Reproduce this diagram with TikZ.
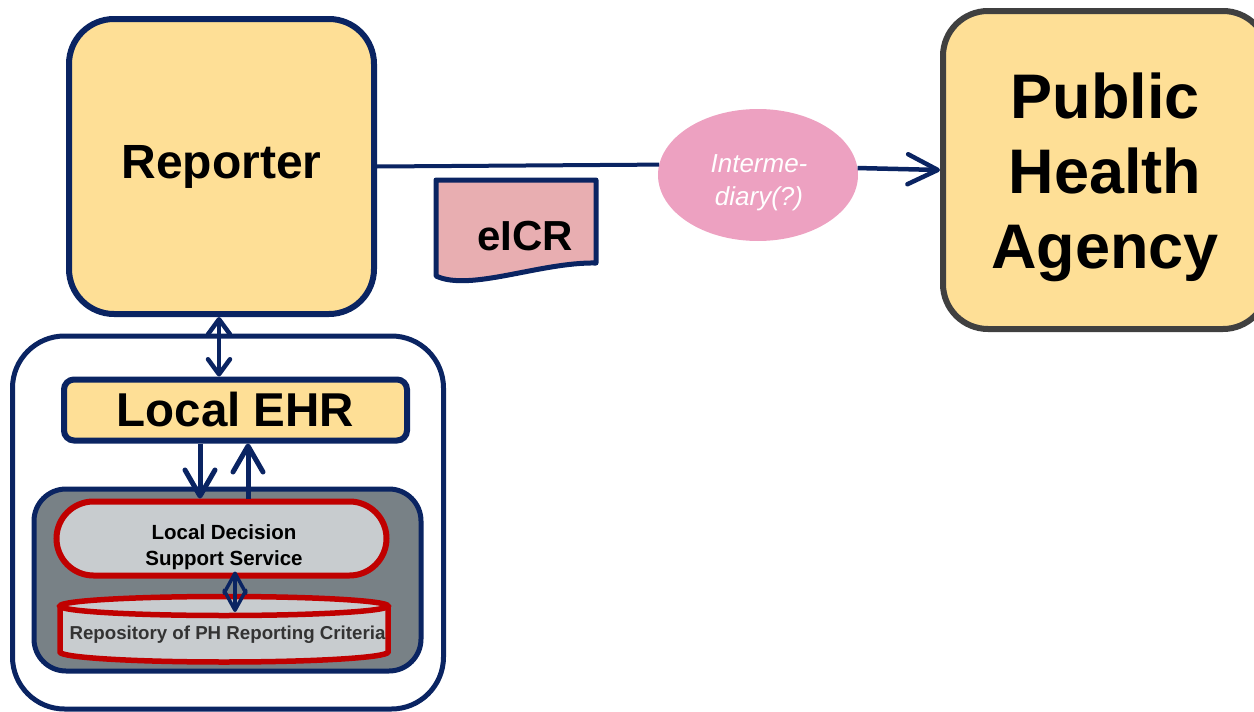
\documentclass[tikz,border=0pt]{standalone}
\usepackage{fontspec}
\setmainfont{Liberation Sans}
\usetikzlibrary{shapes.geometric,arrows.meta}
\definecolor{navy}{HTML}{0A2462}
\definecolor{boxfill}{HTML}{FEDF96}
\definecolor{phaborder}{HTML}{404040}
\definecolor{pinkfill}{HTML}{EDA1C1}
\definecolor{docfill}{HTML}{E8AEB1}
\definecolor{slate}{HTML}{788186}
\definecolor{pale}{HTML}{C8CCCF}
\definecolor{alert}{HTML}{C00000}
\definecolor{darktext}{HTML}{333333}

\tikzset{
  smallbarb/.tip={Straight Barb[round,length=15pt,width=22pt]},
  linkbarb/.tip={Straight Barb[round,length=20pt,width=22pt]},
  widebarb/.tip={Straight Barb[round,length=26pt,width=30pt]},
  bigbarb/.tip={Straight Barb[round,length=30pt,width=30pt]}
}

\begin{document}
\begin{tikzpicture}[x=1pt,y=-1pt,
  bigbox/.style={draw=navy, line width=6pt, fill=boxfill, inner sep=0pt},
  link/.style={draw=navy, line width=4.5pt},
  boldtext/.style={font=\fontsize{#1}{#1}\selectfont\bfseries, inner sep=0pt}
]
\useasboundingbox (0,0) rectangle (1254,712);

% --- Reporter and Public Health Agency -----------------------------------
\node[bigbox, rounded corners=45pt, minimum width=305pt, minimum height=295pt,
      font=\fontsize{48}{56}\selectfont\bfseries] (rep) at (221.5,166.5) {Reporter};

\node[draw=phaborder, fill=boxfill, line width=6pt, rounded corners=45pt,
      minimum width=325pt, minimum height=318pt, inner sep=0pt] (pha) at (1105.5,170) {};
\node[font=\fontsize{63}{75}\selectfont\bfseries, align=center, inner sep=0pt]
      (phatext) at (1105,177) {Public\\Health\\Agency};

% --- Intermediary ----------------------------------------------------------
\node[ellipse, fill=pinkfill, minimum width=200pt, minimum height=132pt, inner sep=0pt]
      (inter) at (758,175) {};
\node[font=\fontsize{26}{33}\selectfont\itshape, text=white, align=center, inner sep=0pt]
      (intertext) at (759,183) {Interme-\\diary(?)};

% --- eICR document -----------------------------------------------------------
\draw[navy, line width=5pt, fill=docfill, line join=round]
  (436,180) -- (596,180) -- (596,263) .. controls (540,262) and (470,292) .. (436,276) -- cycle;
\node[boldtext=42] (eicr) at (525,236) {eICR};

% --- Local system container --------------------------------------------------
\node[draw=navy, line width=5pt, fill=white, rounded corners=52pt,
      minimum width=431pt, minimum height=373pt, inner sep=0pt] (local) at (228,522.5) {};

\node[draw=navy, line width=6pt, fill=boxfill, rounded corners=10pt,
      minimum width=343pt, minimum height=61pt, inner sep=0pt,
      font=\fontsize{47.5}{50}\selectfont\bfseries] (ehr) at (235.5,410) {Local EHR};

\node[draw=navy, line width=5pt, fill=slate, rounded corners=32pt,
      minimum width=387pt, minimum height=182pt, inner sep=0pt] (cds) at (227.5,580) {};

\node[draw=alert, line width=6pt, fill=pale, rounded corners=37pt,
      minimum width=330pt, minimum height=74pt, inner sep=0pt] (ldss) at (221.5,538.5) {};
\node[align=center, inner sep=0pt, font=\fontsize{20.5}{26}\selectfont\bfseries]
      (ldsstext) at (224,547) {Local Decision\\Support Service};

% repository cylinder
\fill[pale] (60,606) -- (60,652) arc[start angle=180, end angle=360, x radius=164pt, y radius=10pt]
  -- (388,606) -- cycle;
\draw[alert, line width=5.5pt] (60,606) -- (60,652)
  arc[start angle=180, end angle=360, x radius=164pt, y radius=10pt] -- (388,606);
\draw[alert, line width=5.5pt, fill=pale] (224,606) ellipse[x radius=164pt, y radius=9.5pt];
\node[boldtext=18.7, text=darktext] (repo) at (227.5,635) {Repository of PH Reporting Criteria};
\coordinate (repotop) at (235,612);

% --- connectors ----------------------------------------------------------------
\coordinate (xr) at (219,0);
\coordinate (xa) at (200,0);
\coordinate (xb) at (248,0);
\coordinate (xq) at (235,0);
\coordinate (ldssbot) at ([yshift=7pt]ldss.south);

\draw[link, line width=4pt] (rep.east) -- (inter.174);
\draw[link, -bigbarb] (inter.4) -- (pha.west);

\draw[link, smallbarb-smallbarb] (rep.south -| xr) -- (ehr.north -| xr);

\draw[link, line width=5pt, -widebarb] (ehr.south -| xa) -- (ldss.north -| xa);
\draw[link, line width=5pt, -widebarb] (ldss.north -| xb) -- (ehr.south -| xb);

\draw[link, line width=3.5pt, linkbarb-linkbarb] (ldssbot -| xq) -- (repotop);
\end{tikzpicture}
\end{document}
